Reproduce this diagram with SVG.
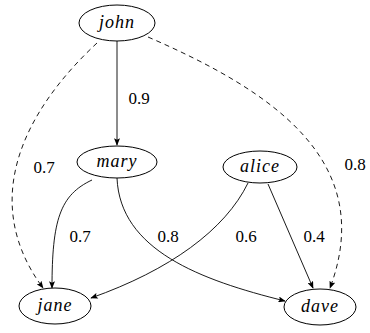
<svg xmlns="http://www.w3.org/2000/svg" width="370" height="333" viewBox="0 0 370 333">
<style>
.node ellipse{fill:#fff;stroke:#000;stroke-width:1}
.nt{font-family:'Liberation Serif',serif;font-style:italic;font-size:18px;letter-spacing:1px;text-anchor:middle}
.edge{fill:none;stroke:#000;stroke-width:0.9;marker-end:url(#arr)}
.dash{stroke-dasharray:5 4}
.lbl{font-family:'Liberation Serif',serif;font-size:17px;text-anchor:middle}
</style>
<defs>
<marker id="arr" viewBox="0 0 10 8" refX="9" refY="4" markerWidth="8" markerHeight="6" orient="auto" markerUnits="userSpaceOnUse">
<path d="M0,0 L10,4 L0,8 L2,4 Z" fill="#000"/>
</marker>
</defs>
<g id="edges">
<path class="edge" d="M117,41 L117,145"/>
<path class="edge dash" d="M97,43 C25,110 -22,200 43,288"/>
<path class="edge dash" d="M148,37 C270,90 378,160 330,288"/>
<path class="edge" d="M92,180 C60,195 52,220 52,288"/>
<path class="edge" d="M117,178 C120,250 200,280 285,301"/>
<path class="edge" d="M248,183 C225,230 170,270 91,298"/>
<path class="edge" d="M268,184 L313,288"/>
<text class="lbl" x="139" y="104">0.9</text>
<text class="lbl" x="44" y="173">0.7</text>
<text class="lbl" x="80" y="242">0.7</text>
<text class="lbl" x="168" y="242">0.8</text>
<text class="lbl" x="246" y="242">0.6</text>
<text class="lbl" x="314" y="242">0.4</text>
<text class="lbl" x="355" y="170">0.8</text>
</g>
<g id="john" class="node"><ellipse cx="117" cy="23" rx="38" ry="18"/><text class="nt" x="117" y="28">john</text></g>
<g id="mary" class="node"><ellipse cx="117" cy="162" rx="40" ry="16"/><text class="nt" x="117" y="167">mary</text></g>
<g id="alice" class="node"><ellipse cx="260" cy="167" rx="37" ry="16"/><text class="nt" x="260" y="172">alice</text></g>
<g id="jane" class="node"><ellipse cx="55" cy="306" rx="36" ry="18"/><text class="nt" x="55" y="311">jane</text></g>
<g id="dave" class="node"><ellipse cx="320" cy="307" rx="36" ry="18"/><text class="nt" x="320" y="312">dave</text></g>
</svg>
